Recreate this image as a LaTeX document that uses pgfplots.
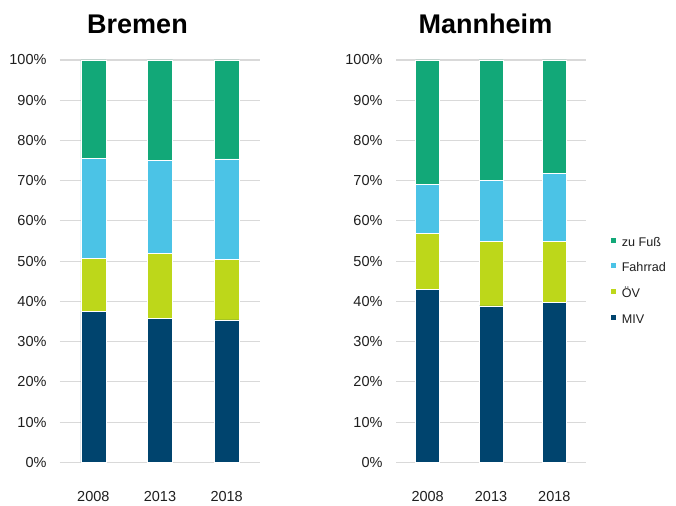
\documentclass[border=0pt]{standalone}
\usepackage{pgfplots}
\pgfplotsset{compat=1.18}
\usepackage{fontspec}
\setmainfont{Liberation Sans}
\definecolor{fuss}{HTML}{12A878}
\definecolor{rad}{HTML}{4BC3E6}
\definecolor{oev}{HTML}{BDD71A}
\definecolor{miv}{HTML}{00446E}
\definecolor{gridc}{HTML}{D9D9D9}
\definecolor{txt}{HTML}{1E1E1E}

\pgfplotsset{
  modal/.style={
    scale only axis, height=402.3pt,
    ybar stacked, ymin=0, ymax=100,
    xmin=-0.5, xmax=2.5, xtick=data, xticklabels={2008,2013,2018},
    ytick={0,10,...,100},
    yticklabels={0\%,10\%,20\%,30\%,40\%,50\%,60\%,70\%,80\%,90\%,100\%},
    axis line style={draw=none}, tick style={draw=none},
    ymajorgrids, grid style={gridc, line width=1.1pt},
    /pgf/number format/assume math mode=true,
    ticklabel style={font=\fontsize{14.5}{16}\selectfont, text=txt, inner sep=0pt},
    yticklabel style={xshift=-13.3pt},
    xticklabel style={anchor=north, yshift=-29pt},
    title style={font=\fontsize{27}{30}\selectfont\bfseries, anchor=base, yshift=20pt},
    every axis plot/.append style={draw=white, line width=0.6pt},
  }
}

\begin{document}
\begin{tikzpicture}
\useasboundingbox (0pt,0pt) rectangle (676pt,-505pt);

\begin{axis}[modal, at={(60pt,-462.3pt)}, anchor=south west, width=200pt,
  bar width=25pt, title={Bremen}, title style={at={(0.3875,1)}}]
\addplot[fill=miv]  coordinates {(0,37.6) (1,35.8) (2,35.4)};
\addplot[fill=oev]  coordinates {(0,13.0) (1,16.2) (2,15.1)};
\addplot[fill=rad]  coordinates {(0,25.0) (1,23.0) (2,24.9)};
\addplot[fill=fuss] coordinates {(0,24.4) (1,25.0) (2,24.6)};
\end{axis}

\begin{axis}[modal, at={(396pt,-462.3pt)}, anchor=south west, width=190pt,
  bar width=24pt, title={Mannheim}, title style={at={(0.471,1)}},
  reverse legend,
  legend style={at={(1.132,0.5605)}, anchor=north west, draw=none, fill=none,
    inner sep=0pt, column sep=5.5pt, row sep=13.7pt,
    font=\fontsize{12.6}{14}\selectfont, text=txt,
    nodes={inner sep=0pt, text height=9pt, text depth=3pt}},
  legend cell align=left,
  legend image code/.code={\fill[#1,draw=none] (0pt,0.5pt) rectangle (5pt,5.5pt);}]
\addplot[fill=miv]  coordinates {(0,42.9) (1,38.9) (2,39.8)};
\addplot[fill=oev]  coordinates {(0,14.0) (1,16.1) (2,15.2)};
\addplot[fill=rad]  coordinates {(0,12.2) (1,15.1) (2,16.8)};
\addplot[fill=fuss] coordinates {(0,30.9) (1,29.9) (2,28.2)};
\legend{MIV,ÖV,Fahrrad,zu Fuß}
\end{axis}
\end{tikzpicture}
\end{document}
